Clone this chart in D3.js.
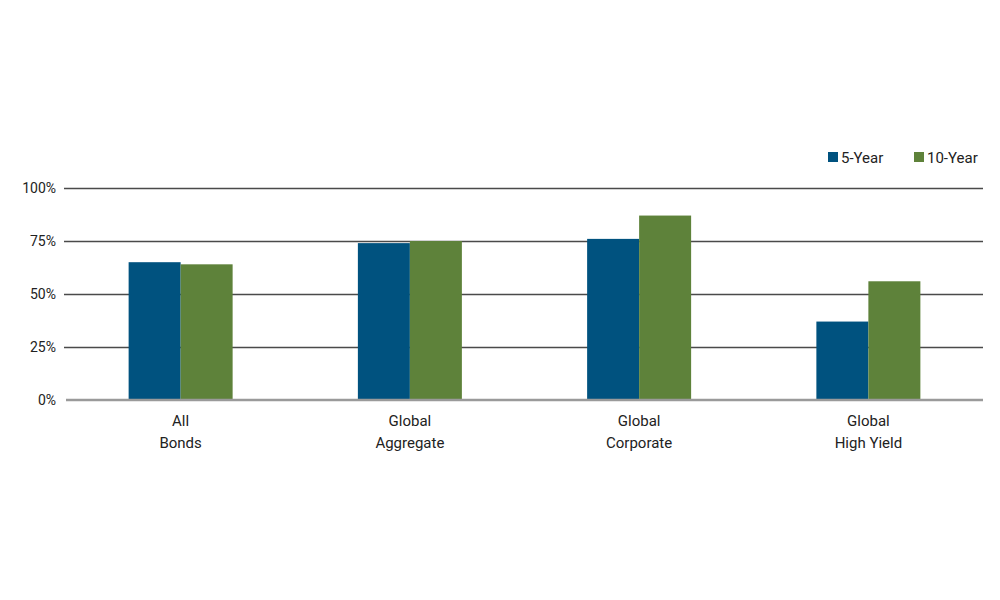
<!DOCTYPE html>
<html>
  <head>
    <meta charset="utf-8">
    <script src="https://cdn.jsdelivr.net/npm/d3@7"></script>
    <style>
     body { margin: 0; background: #fff; }
     text { font-family: Roboto, "Liberation Sans", sans-serif; fill: #222; }
     .grid line { stroke: #4a4a4a; stroke-width: 1.5px; }
     .grid path { display: none; }
     .baseline { stroke: #9a9a9a; stroke-width: 2.5px; }
    </style>
  </head>
  <body>
    <svg id="chart" width="1000" height="600"></svg>
    <script>
     var categories = [["All", "Bonds"], ["Global", "Aggregate"], ["Global", "Corporate"], ["Global", "High Yield"]];
     var seriesNames = ["5-Year", "10-Year"];
     var fiveYear = [65, 74, 76, 37];
     var tenYear = [64, 75, 87, 56];
     var yTicks = [0, 25, 50, 75, 100];
     var colors = ["#00527f", "#5e823a"];

     var svg = d3.select("#chart");

     var x = d3.scaleBand()
               .domain(d3.range(categories.length))
               .range([66, 983]);

     var inner = d3.scaleBand()
                   .domain(seriesNames)
                   .range([0, 104]);

     var y = d3.scaleLinear()
               .domain([0, 100])
               .range([400, 188]);

     // gridlines
     svg.append("g")
        .attr("class", "grid")
        .attr("transform", "translate(64,0)")
        .call(d3.axisLeft(y).tickValues(yTicks.slice(1)).tickSize(-919).tickFormat(""));

     // tick labels
     svg.append("g")
        .selectAll("text")
        .data(yTicks)
        .join("text")
        .attr("x", 56)
        .attr("y", function(d) { return y(d) + 5; })
        .attr("text-anchor", "end")
        .style("font-size", "14px")
        .text(function(d) { return d + "%"; });

     var rows = categories.map(function(c, i) {
       return [fiveYear[i], tenYear[i]];
     });

     var groups = svg.append("g")
        .selectAll("g")
        .data(rows)
        .join("g")
        .attr("transform", function(d, i) {
          return "translate(" + (x(i) + x.bandwidth() / 2 - 52) + ",0)";
        });

     groups.selectAll("rect")
        .data(function(d) { return d; })
        .join("rect")
        .attr("x", function(d, j) { return inner(seriesNames[j]); })
        .attr("width", inner.bandwidth())
        .attr("y", function(d) { return y(d); })
        .attr("height", function(d) { return y(0) - y(d); })
        .attr("fill", function(d, j) { return colors[j]; });

     svg.append("line")
        .attr("class", "baseline")
        .attr("x1", 66).attr("x2", 983)
        .attr("y1", y(0)).attr("y2", y(0));

     // category labels
     var labels = svg.append("g")
        .selectAll("text")
        .data(categories)
        .join("text")
        .attr("text-anchor", "middle")
        .style("font-size", "15px")
        .attr("transform", function(d, i) {
          return "translate(" + (x(i) + x.bandwidth() / 2) + ",426)";
        });

     labels.selectAll("tspan")
        .data(function(d) { return d; })
        .join("tspan")
        .attr("x", 0)
        .attr("dy", function(d, k) { return k ? 22 : 0; })
        .text(function(d) { return d; });

     // legend
     var legendX = [828, 914];
     var legend = svg.append("g")
        .selectAll("g")
        .data(seriesNames)
        .join("g")
        .attr("transform", function(d, i) { return "translate(" + legendX[i] + ",152)"; });

     legend.append("rect")
        .attr("width", 10).attr("height", 10)
        .attr("fill", function(d, i) { return colors[i]; });

     legend.append("text")
        .attr("x", 13)
        .attr("y", 11)
        .style("font-size", "15px")
        .text(function(d) { return d; });
    </script>
  </body>
</html>
